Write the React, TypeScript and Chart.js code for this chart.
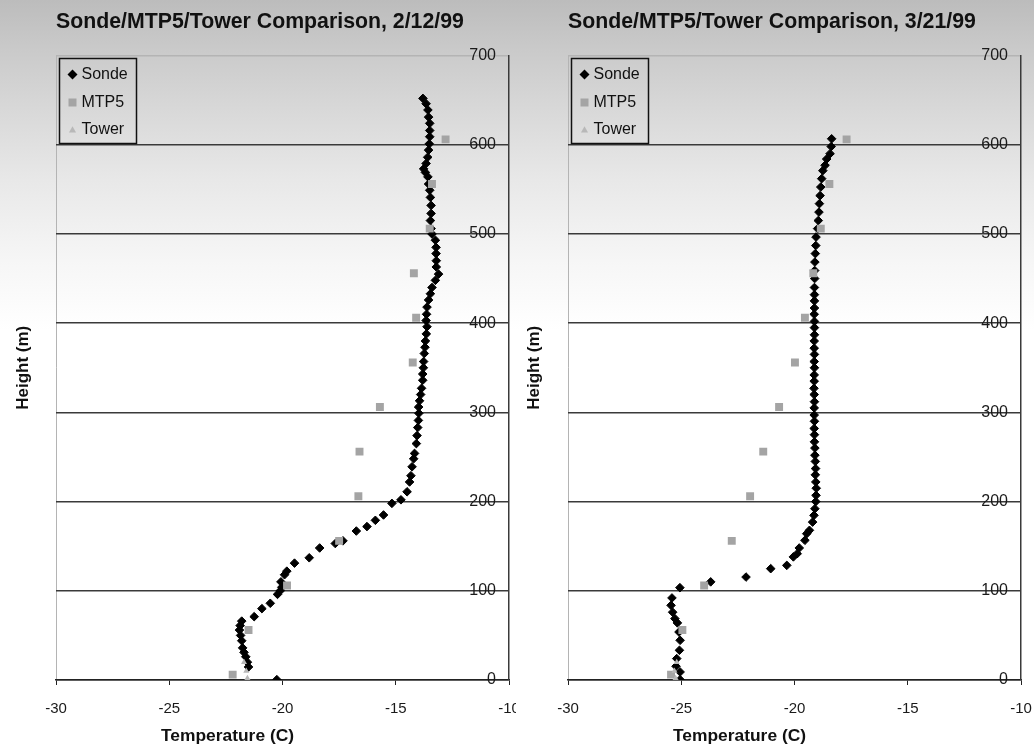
import React, { useEffect, useRef } from 'react';
import { Chart, registerables } from 'chart.js';

Chart.register(...registerables);

const FONT = '"Liberation Sans", Arial, Helvetica, sans-serif';

// ---- text ----
const chartTitles = ['Sonde/MTP5/Tower Comparison, 2/12/99', 'Sonde/MTP5/Tower Comparison, 3/21/99'];
const seriesNames = ['Sonde', 'MTP5', 'Tower'];
const xAxisTitle = 'Temperature (C)';
const yAxisTitle = 'Height (m)';

// ---- axis ranges ----
const xRange = [-30, -10];
const xStep = 5;
const yRange = [0, 700];
const yStep = 100;

// ---- 2/12/99 ----
const sonde1Height = [
  0.4, 14.6, 20, 26, 31, 36, 44, 50, 56, 61, 66, 71, 80, 86, 96, 100, 104, 110, 118, 122,
  131, 137, 148, 153, 156, 167, 172, 179, 185, 198, 202, 211, 222, 229, 239, 248, 254, 265, 274, 283,
  291, 299, 306, 313, 320, 327, 336, 343, 350, 357, 366, 373, 380, 388, 396, 403, 410, 418, 426, 433,
  440, 448, 455, 463, 470, 478, 485, 493, 500, 506, 515, 523, 532, 541, 549, 556, 564, 569, 573, 579,
  586, 594, 601, 609, 616, 624, 631, 639, 646, 652,
];
const sonde1Temp = [
  -20.25, -21.5, -21.55, -21.62, -21.7, -21.76, -21.8, -21.85, -21.9, -21.87, -21.8, -21.25, -20.91, -20.54, -20.22, -20.1, -20.03, -20.07, -19.91, -19.81,
  -19.47, -18.82, -18.36, -17.67, -17.33, -16.74, -16.27, -15.9, -15.54, -15.17, -14.77, -14.5, -14.39, -14.33, -14.28, -14.21, -14.17, -14.09, -14.06, -14.03,
  -14.0, -13.98, -13.99, -13.95, -13.9, -13.86, -13.81, -13.81, -13.78, -13.77, -13.74, -13.71, -13.69, -13.65, -13.62, -13.66, -13.64, -13.62, -13.55, -13.47,
  -13.4, -13.25, -13.11, -13.21, -13.21, -13.22, -13.22, -13.25, -13.4, -13.44, -13.47, -13.44, -13.44, -13.47, -13.5, -13.55, -13.58, -13.69, -13.77, -13.66,
  -13.59, -13.55, -13.52, -13.5, -13.5, -13.5, -13.55, -13.58, -13.66, -13.8,
];
const mtp5Height = [6, 56, 106, 156, 206, 256, 306, 356, 406, 456, 506, 556, 606];
const mtp51Temp = [-22.2, -21.5, -19.8, -17.5, -16.65, -16.6, -15.7, -14.25, -14.1, -14.2, -13.5, -13.4, -12.8];
const towerHeight = [2, 10, 20];
const tower1Temp = [-21.55, -21.6, -21.7];

// ---- 3/21/99 ----
const sonde2Height = [
  0.4, 9, 15.4, 24, 33.3, 44.5, 53.8, 64, 68.8, 76, 83.7, 92, 103.5, 110, 115.4, 124.8, 128.5, 138, 141.6, 148,
  156.6, 164, 167.8, 177, 184.6, 192, 200, 207, 215, 222, 230, 237, 245, 252, 260, 267, 275, 282, 290,
  297, 305, 312, 320, 327, 335, 342, 350, 357, 365, 372, 380, 387, 395, 402, 410, 417, 425, 432, 440,
  450, 459, 468.5, 478, 487, 496.5, 506, 515, 524.5, 534, 543, 552.6, 562, 571, 577, 584, 590, 598, 606.7,
];
const sonde2Temp = [
  -25.05, -25.05, -25.23, -25.2, -25.08, -25.05, -25.1, -25.17, -25.28, -25.38, -25.45, -25.41, -25.06, -23.7, -22.14, -21.05, -20.34, -20.05, -19.88, -19.79,
  -19.54, -19.46, -19.34, -19.2, -19.14, -19.1, -19.06, -19.05, -19.04, -19.06, -19.08, -19.07, -19.08, -19.1, -19.1, -19.12, -19.12, -19.13, -19.12,
  -19.13, -19.13, -19.12, -19.13, -19.14, -19.13, -19.13, -19.12, -19.13, -19.12, -19.13, -19.13, -19.12, -19.12, -19.12, -19.13, -19.12, -19.12, -19.12, -19.12,
  -19.11, -19.11, -19.1, -19.08, -19.06, -19.05, -18.98, -18.95, -18.92, -18.9, -18.87, -18.84, -18.8, -18.75, -18.65, -18.58, -18.43, -18.38, -18.36,
];
const mtp52Temp = [-25.45, -24.95, -23.99, -22.77, -21.96, -21.38, -20.68, -19.98, -19.54, -19.17, -18.84, -18.46, -17.7];
const tower2Temp = [-25.25, -25.3, -25.2];

const GRADIENT =
  'linear-gradient(to bottom, #bcbcbc 0px, #cacaca 50px, #d6d6d6 100px, #e8e8e8 180px, #f6f6f6 260px, #ffffff 330px, #ffffff 747px)';

const toPoints = (xs: number[], ys: number[]) => xs.map((x, i) => ({ x, y: ys[i] }));

const boxLegend = {
  id: 'boxLegend',
  afterDraw(chart: any, _args: any, opts: any) {
    const { ctx, chartArea } = chart;
    const x0 = Math.round(chartArea.left + opts.dx) + 0.5;
    const y0 = Math.round(chartArea.top + opts.dy) + 0.5;
    ctx.save();
    ctx.strokeStyle = '#111';
    ctx.lineWidth = 1.5;
    ctx.strokeRect(x0, y0, opts.w, opts.h);
    ctx.font = `16px ${FONT}`;
    ctx.textBaseline = 'middle';
    ctx.textAlign = 'left';
    const rows = [16, 44, 71];
    chart.data.datasets.forEach((ds: any, i: number) => {
      const cy = y0 + rows[i];
      const cx = x0 + 13;
      ctx.fillStyle = ds.backgroundColor;
      ctx.beginPath();
      if (ds.pointStyle === 'rectRot') {
        const r = 5;
        ctx.moveTo(cx - r, cy);
        ctx.lineTo(cx, cy - r);
        ctx.lineTo(cx + r, cy);
        ctx.lineTo(cx, cy + r);
        ctx.closePath();
      } else if (ds.pointStyle === 'rect') {
        ctx.rect(cx - 4, cy - 4, 8, 8);
      } else {
        ctx.moveTo(cx - 3.5, cy + 3);
        ctx.lineTo(cx, cy - 3.2);
        ctx.lineTo(cx + 3.5, cy + 3);
        ctx.closePath();
      }
      ctx.fill();
      ctx.fillStyle = '#111';
      ctx.fillText(ds.label, x0 + 22, cy);
    });
    ctx.restore();
  },
};

type Props = {
  title: string;
  sondeT: number[];
  sondeH: number[];
  mtpT: number[];
  towerT: number[];
  left: number;
  width: number;
  areaLeft: number;
  areaRight: number;
  yTitlePad: number;
};

function ProfileChart(p: Props) {
  const ref = useRef<HTMLCanvasElement | null>(null);
  useEffect(() => {
    if (!ref.current) return;
    const chart = new Chart(ref.current, {
      type: 'scatter',
      data: {
        datasets: [
          {
            label: seriesNames[0],
            data: toPoints(p.sondeT, p.sondeH),
            xAxisID: 'x',
            yAxisID: 'y',
            pointStyle: 'rectRot',
            pointRadius: 4.3,
            backgroundColor: '#000000',
            borderColor: '#000000',
            borderWidth: 1,
            order: 3,
          },
          {
            label: seriesNames[1],
            data: toPoints(p.mtpT, mtp5Height),
            xAxisID: 'x',
            yAxisID: 'y',
            pointStyle: 'rect',
            pointRadius: 5.6,
            backgroundColor: '#a4a4a4',
            borderColor: '#a4a4a4',
            borderWidth: 0,
            order: 2,
          },
          {
            label: seriesNames[2],
            data: toPoints(p.towerT, towerHeight),
            xAxisID: 'x',
            yAxisID: 'y',
            pointStyle: 'triangle',
            pointRadius: 3.5,
            backgroundColor: '#b8b8b8',
            borderColor: '#b8b8b8',
            borderWidth: 0,
            order: 1,
          },
        ],
      } as any,
      options: {
        responsive: false,
        animation: false,
        events: [],
        layout: { padding: 0 },
        plugins: {
          legend: { display: false },
          tooltip: { enabled: false },
          title: {
            display: true,
            text: p.title,
            align: 'start',
            fullSize: false,
            color: '#111',
            font: { family: FONT, size: 21.3, weight: 'bold' },
            padding: { top: 9, bottom: 21 },
          },
          boxLegend: { dx: 3, dy: 2, w: 77, h: 85 },
        } as any,
        scales: {
          x: {
            type: 'linear',
            position: 'bottom',
            min: xRange[0],
            max: xRange[1],
            ticks: {
              stepSize: xStep,
              color: '#1a1a1a',
              font: { family: FONT, size: 15 },
              padding: 15,
              maxRotation: 0,
              autoSkip: false,
            },
            grid: {
              display: true,
              drawOnChartArea: true,
              color: (c: any) => (c.tick && c.tick.value === xRange[0] ? '#b4b4b4' : 'rgba(0,0,0,0)'),
              tickColor: '#222',
              tickLength: 5,
              lineWidth: 1,
            },
            border: { display: true, color: '#222', width: 1.5 },
            afterFit: (s: any) => {
              s.height = 67;
              s.paddingLeft = 0;
              s.paddingRight = 0;
            },
          },
          y: {
            type: 'linear',
            position: 'right',
            min: yRange[0],
            max: yRange[1],
            ticks: {
              stepSize: yStep,
              mirror: true,
              padding: -13,
              color: '#1a1a1a',
              font: { family: FONT, size: 16 },
            },
            grid: {
              color: (c: any) => (c.tick && c.tick.value === yRange[1] ? '#b4b4b4' : '#3a3a3a'),
              lineWidth: 1.5,
              drawTicks: false,
            },
            border: { display: true, color: '#3a3a3a', width: 1.5 },
            afterFit: (s: any) => {
              s.width = p.width - p.areaRight;
              s.paddingTop = 0;
              s.paddingBottom = 0;
            },
          },
          yt: {
            type: 'linear',
            position: 'left',
            min: 0,
            max: 1,
            display: true,
            ticks: { display: false },
            grid: { display: false },
            border: { display: false },
            title: {
              display: true,
              text: yAxisTitle,
              color: '#111',
              font: { family: FONT, size: 17, weight: 'bold' },
              padding: { top: p.yTitlePad, bottom: 0 },
            },
            afterFit: (s: any) => {
              s.width = p.areaLeft;
            },
          },
        } as any,
      },
      plugins: [boxLegend as any],
    });
    return () => chart.destroy();
  }, []);
  return (
    <canvas
      ref={ref}
      width={p.width}
      height={747}
      style={{ position: 'absolute', left: p.left, top: 0, width: p.width, height: 747, display: 'block' }}
    />
  );
}

const axisTitleStyle = (left: number): React.CSSProperties => ({
  position: 'absolute',
  left,
  top: 725,
  fontFamily: FONT,
  fontWeight: 'bold',
  fontSize: 17.4,
  lineHeight: '20px',
  color: '#111',
  whiteSpace: 'nowrap',
});

export default function App() {
  return (
    <div
      style={{
        position: 'absolute',
        left: 0,
        top: 0,
        width: 1034,
        height: 747,
        overflow: 'hidden',
        background: GRADIENT,
      }}
    >
      <ProfileChart
        title={chartTitles[0]}
        sondeT={sonde1Temp}
        sondeH={sonde1Height}
        mtpT={mtp51Temp}
        towerT={tower1Temp}
        left={0}
        width={516}
        areaLeft={56}
        areaRight={509}
        yTitlePad={12.8}
      />
      <ProfileChart
        title={chartTitles[1]}
        sondeT={sonde2Temp}
        sondeH={sonde2Height}
        mtpT={mtp52Temp}
        towerT={tower2Temp}
        left={516}
        width={518}
        areaLeft={52}
        areaRight={505}
        yTitlePad={8.5}
      />
      <div style={axisTitleStyle(161)}>{xAxisTitle}</div>
      <div style={axisTitleStyle(673)}>{xAxisTitle}</div>
    </div>
  );
}
